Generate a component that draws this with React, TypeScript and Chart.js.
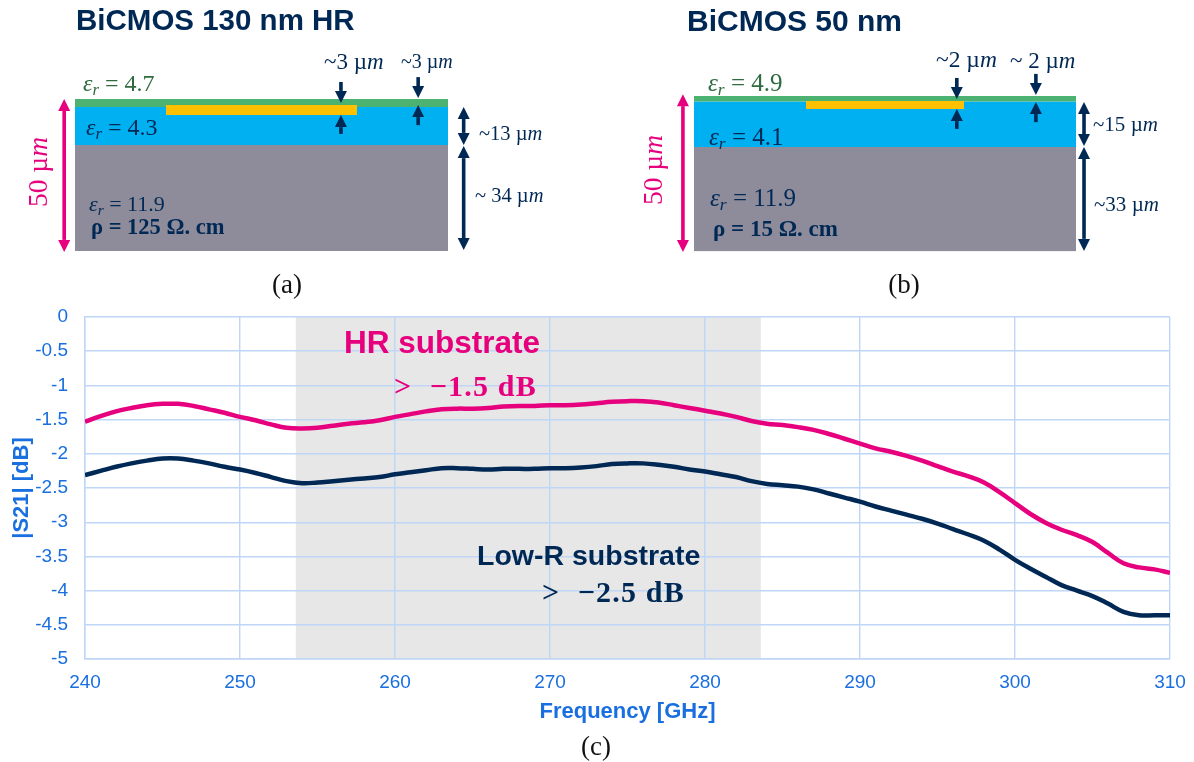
import React, { useEffect, useRef } from "react";
import { Chart, registerables } from "chart.js";

Chart.register(...registerables);

const NAVY = "#002855";
const PINK = "#e6007e";
const BLUE = "#1a6fe0";
const GRID = "#bfd6f6";
const SANS = "'Liberation Sans', Arial, sans-serif";
const SERIF = "'Liberation Serif', serif";

// --- S21 data
const frequencyGHz = [240,241,242,243,244,245,246,247,248,249,250,251,252,253,254,255,256,257,258,259,260,261,262,263,264,265,266,267,268,269,270,271,272,273,274,275,276,277,278,279,280,281,282,283,284,285,286,287,288,289,290,291,292,293,294,295,296,297,298,299,300,301,302,303,304,305,306,307,308,309,310];
const hrSubstrate = [-1.53,-1.45,-1.38,-1.33,-1.29,-1.27,-1.27,-1.3,-1.35,-1.4,-1.46,-1.51,-1.57,-1.62,-1.63,-1.62,-1.59,-1.56,-1.54,-1.51,-1.46,-1.42,-1.38,-1.35,-1.34,-1.34,-1.33,-1.31,-1.3,-1.3,-1.29,-1.29,-1.28,-1.26,-1.24,-1.23,-1.23,-1.25,-1.29,-1.33,-1.37,-1.41,-1.46,-1.52,-1.56,-1.58,-1.61,-1.65,-1.71,-1.78,-1.85,-1.92,-1.97,-2.03,-2.1,-2.18,-2.26,-2.33,-2.42,-2.56,-2.72,-2.88,-3.01,-3.11,-3.19,-3.29,-3.45,-3.6,-3.66,-3.69,-3.74];
const lowRSubstrate = [-2.31,-2.25,-2.19,-2.14,-2.1,-2.07,-2.07,-2.1,-2.14,-2.19,-2.23,-2.28,-2.34,-2.4,-2.43,-2.42,-2.4,-2.38,-2.36,-2.34,-2.3,-2.27,-2.24,-2.21,-2.21,-2.22,-2.23,-2.22,-2.22,-2.22,-2.21,-2.21,-2.2,-2.18,-2.15,-2.14,-2.14,-2.16,-2.19,-2.23,-2.26,-2.3,-2.34,-2.4,-2.44,-2.46,-2.48,-2.52,-2.58,-2.64,-2.7,-2.77,-2.83,-2.89,-2.95,-3.02,-3.1,-3.18,-3.27,-3.4,-3.55,-3.68,-3.8,-3.92,-4,-4.08,-4.19,-4.31,-4.36,-4.36,-4.36];
const designBand = [253.6, 283.6];

// --- cross-section data (depth in µm, width in % of the die)
const layerNames = ["Passivation", "Dielectric", "Substrate"];
const layerColors = ["#4cb272", "#00b0f0", "#8e8c9a"];
const depthsA = [0, 2.6, 15.1, 50];
const depthsB = [0, 1.8, 16.4, 50];
const stripWidthA = [24.4, 75.6];
const stripWidthB = [29.3, 70.7];
const stripDepthA = [2, 5.3];
const stripDepthB = [1.6, 4.2];

// [width %, depth from, depth to, double headed (1) or not (0), pink (1) or navy (0)]
const arrowsA = [
  [71.3, -5.6, 1.3, 0, 0], [71.3, 11.5, 5.3, 0, 0],
  [92, -7.2, -0.3, 0, 0], [92, 8.6, 2, 0, 0],
  [104.2, 2.6, 15.1, 1, 0], [104.2, 15.5, 49.7, 1, 0],
  [-2.9, 0, 50.3, 1, 1],
];
const arrowsB = [
  [68.8, -5.8, 1, 0, 0], [68.8, 10.6, 4.2, 0, 0],
  [89.5, -7.1, -0.3, 0, 0], [89.5, 8.4, 1.9, 0, 0],
  [102.1, 1.9, 16.1, 1, 0], [102.1, 16.4, 49.8, 1, 0],
  [-2.9, -0.6, 50.2, 1, 1],
];

function CrossSection({ left, width, padding, depths, stripWidth, stripDepth, arrows }: any) {
  const ref = useRef<HTMLCanvasElement>(null);
  useEffect(() => {
    const layers = layerNames.map((name, i) => ({
      label: name,
      data: [{ x: 0, y: depths[i] }, { x: 100, y: depths[i] }],
      fill: { target: { value: depths[i + 1] } },
      backgroundColor: layerColors[i],
      borderWidth: 0,
      pointRadius: 0,
    }));
    const strip = {
      label: "Metal",
      data: [{ x: stripWidth[0], y: stripDepth[0] }, { x: stripWidth[1], y: stripDepth[0] }],
      fill: { target: { value: stripDepth[1] } },
      backgroundColor: "#ffc000",
      borderWidth: 0,
      pointRadius: 0,
    };
    const arrowPlugin = {
      id: "arrows",
      afterDraw(c: any) {
        const g = c.ctx;
        const xs = c.scales.x, ys = c.scales.y;
        const head = (x: number, y: number, dir: number, w: number, h: number) => {
          g.beginPath();
          g.moveTo(x, y);
          g.lineTo(x - w, y - dir * h);
          g.lineTo(x + w, y - dir * h);
          g.closePath();
          g.fill();
        };
        for (const [wx, d0, d1, both, pink] of arrows) {
          const x = xs.getPixelForValue(wx);
          const y0 = ys.getPixelForValue(d0);
          const y1 = ys.getPixelForValue(d1);
          const dir = y1 > y0 ? 1 : -1;
          const col = pink ? PINK : NAVY;
          const w = 6, h = 12;
          g.save();
          g.strokeStyle = col;
          g.fillStyle = col;
          g.lineWidth = 3.6;
          g.beginPath();
          g.moveTo(x, both ? y0 + dir * h : y0);
          g.lineTo(x, y1 - dir * h);
          g.stroke();
          head(x, y1, dir, w, h);
          if (both) head(x, y0, -dir, w, h);
          g.restore();
        }
      },
    };
    const chart = new Chart(ref.current!, {
      type: "line",
      data: { datasets: [strip, ...layers] as any },
      options: {
        animation: false,
        responsive: false,
        layout: { padding },
        plugins: { legend: { display: false }, tooltip: { enabled: false }, title: { display: false } },
        scales: {
          x: { type: "linear", min: 0, max: 100, display: false },
          y: { type: "linear", min: 0, max: 50, reverse: true, display: false },
        },
      },
      plugins: [arrowPlugin],
    } as any);
    return () => chart.destroy();
  }, []);
  return <canvas ref={ref} width={width} height={300} style={{ position: "absolute", left, top: 0, width, height: 300 }} />;
}

function S21Chart() {
  const ref = useRef<HTMLCanvasElement>(null);
  useEffect(() => {
    const bandPlugin = {
      id: "band",
      beforeDraw(c: any) {
        const { top, bottom } = c.chartArea;
        const x0 = c.scales.x.getPixelForValue(designBand[0]);
        const x1 = c.scales.x.getPixelForValue(designBand[1]);
        c.ctx.save();
        c.ctx.fillStyle = "#e7e7e7";
        c.ctx.fillRect(x0, top, x1 - x0, bottom - top);
        c.ctx.restore();
      },
    };
    const line = (label: string, values: number[], color: string) => ({
      label,
      data: frequencyGHz.map((f, i) => ({ x: f, y: values[i] })),
      borderColor: color,
      borderWidth: 4.5,
      pointRadius: 0,
      tension: 0.4,
      fill: false,
      borderCapStyle: "butt",
    });
    const chart = new Chart(ref.current!, {
      type: "line",
      data: {
        datasets: [
          line("HR substrate", hrSubstrate, PINK),
          line("Low-R substrate", lowRSubstrate, NAVY),
        ] as any,
      },
      options: {
        animation: false,
        responsive: false,
        layout: { padding: { left: 0, top: 17, right: 24, bottom: 0 } },
        plugins: { legend: { display: false }, tooltip: { enabled: false }, title: { display: false } },
        scales: {
          x: {
            type: "linear",
            min: 240,
            max: 310,
            afterFit: (s: any) => { s.height = 103; s.paddingLeft = 0; s.paddingRight = 0; },
            grid: { color: GRID, lineWidth: 1.4, drawTicks: false },
            border: { color: GRID, width: 1.4 },
            ticks: {
              stepSize: 10,
              color: BLUE,
              padding: 12,
              maxRotation: 0,
              font: { family: SANS, size: 19 },
            },
            title: {
              display: true,
              text: "Frequency [GHz]",
              color: BLUE,
              font: { family: SANS, size: 22, weight: "bold" },
              padding: { top: 0, bottom: 37 },
            },
          },
          y: {
            type: "linear",
            min: -5,
            max: 0,
            afterFit: (s: any) => { s.width = 85; s.paddingTop = 0; s.paddingBottom = 0; },
            grid: { color: GRID, lineWidth: 1.4, drawTicks: false },
            border: { color: GRID, width: 1.4 },
            ticks: {
              stepSize: 0.5,
              color: BLUE,
              padding: 17,
              font: { family: SANS, size: 19 },
              callback: (v: any) => String(v),
            },
            title: {
              display: true,
              text: "|S21| [dB]",
              color: BLUE,
              font: { family: SANS, size: 22, weight: "bold" },
              padding: { top: 9, bottom: 0 },
            },
          },
        },
      },
      plugins: [bandPlugin],
    } as any);
    return () => chart.destroy();
  }, []);
  return <canvas ref={ref} width={1194} height={462} style={{ position: "absolute", left: 0, top: 300, width: 1194, height: 462 }} />;
}

function T({ x, y, size, color = NAVY, font = SERIF, bold, children, anchor = "left", rotate, spacing }: any) {
  const tx = anchor === "center" ? "-50%" : "0";
  return (
    <div
      style={{
        position: "absolute",
        left: x,
        top: y,
        transform: `translate(${tx}, -50%)${rotate ? ` rotate(${rotate}deg)` : ""}`,
        fontFamily: font,
        fontSize: size,
        fontWeight: bold ? 700 : 400,
        letterSpacing: spacing,
        color,
        whiteSpace: "pre",
        lineHeight: 1,
      }}
    >
      {children}
    </div>
  );
}

const Eps = ({ value }: { value: string }) => (
  <>
    <i>ε</i>
    <i style={{ fontSize: "0.7em", position: "relative", top: "0.25em" }}>r</i>
    {` = ${value}`}
  </>
);
const Um = ({ pre }: { pre: string }) => (
  <>
    {pre}µ<i>m</i>
  </>
);

export default function App() {
  useEffect(() => {
    document.body.style.margin = "0";
  }, []);
  return (
    <div style={{ position: "relative", width: 1194, height: 762, background: "#fff", overflow: "hidden" }}>
      <CrossSection left={0} width={597} padding={{ left: 75, right: 149, top: 99, bottom: 49 }}
        depths={depthsA} stripWidth={stripWidthA} stripDepth={stripDepthA} arrows={arrowsA} />
      <CrossSection left={597} width={597} padding={{ left: 97, right: 118, top: 96, bottom: 48.5 }}
        depths={depthsB} stripWidth={stripWidthB} stripDepth={stripDepthB} arrows={arrowsB} />
      <S21Chart />

      <T x={76} y={20} size={29.5} font={SANS} bold>BiCMOS 130 nm HR</T>
      <T x={687} y={21} size={30} font={SANS} bold>BiCMOS 50 nm</T>

      <T x={83} y={83} size={24} color="#2f6b3f"><Eps value="4.7" /></T>
      <T x={86} y={127} size={24}><Eps value="4.3" /></T>
      <T x={89} y={204} size={22}><Eps value="11.9" /></T>
      <T x={91} y={227} size={22.5} bold>ρ = 125 Ω. cm</T>
      <T x={324} y={61} size={23}><Um pre="~3 " /></T>
      <T x={401} y={61} size={20}><Um pre="~3 " /></T>
      <T x={479} y={133} size={20.5}><Um pre="~13 " /></T>
      <T x={475} y={195} size={20.5}><Um pre="~ 34 " /></T>
      <T x={38} y={172} size={27.5} color={PINK} anchor="center" rotate={-90}><Um pre="50 " /></T>

      <T x={708} y={82} size={25} color="#2f6b3f"><Eps value="4.9" /></T>
      <T x={709} y={136} size={25}><Eps value="4.1" /></T>
      <T x={710} y={197} size={25}><Eps value="11.9" /></T>
      <T x={713} y={228} size={23} bold>ρ = 15 Ω. cm</T>
      <T x={936} y={60} size={23.5}><Um pre="~2 " /></T>
      <T x={1010} y={60} size={23}><Um pre="~ 2 " /></T>
      <T x={1093} y={124} size={21}><Um pre="~15 " /></T>
      <T x={1094} y={204} size={21}><Um pre="~33 " /></T>
      <T x={653} y={170} size={27.5} color={PINK} anchor="center" rotate={-90}><Um pre="50 " /></T>

      <T x={287} y={284} size={27} color="#111" anchor="center">(a)</T>
      <T x={904} y={284} size={27} color="#111" anchor="center">(b)</T>
      <T x={596} y={746} size={27} color="#111" anchor="center">(c)</T>

      <T x={344} y={343} size={31.5} color={PINK} font={SANS} bold>HR substrate</T>
      <T x={394} y={386} size={30} color={PINK} bold spacing={1.2}>{">  −1.5 dB"}</T>
      <T x={477} y={555} size={28.5} font={SANS} bold>Low-R substrate</T>
      <T x={542} y={592} size={30} bold spacing={1.2}>{">  −2.5 dB"}</T>
    </div>
  );
}
